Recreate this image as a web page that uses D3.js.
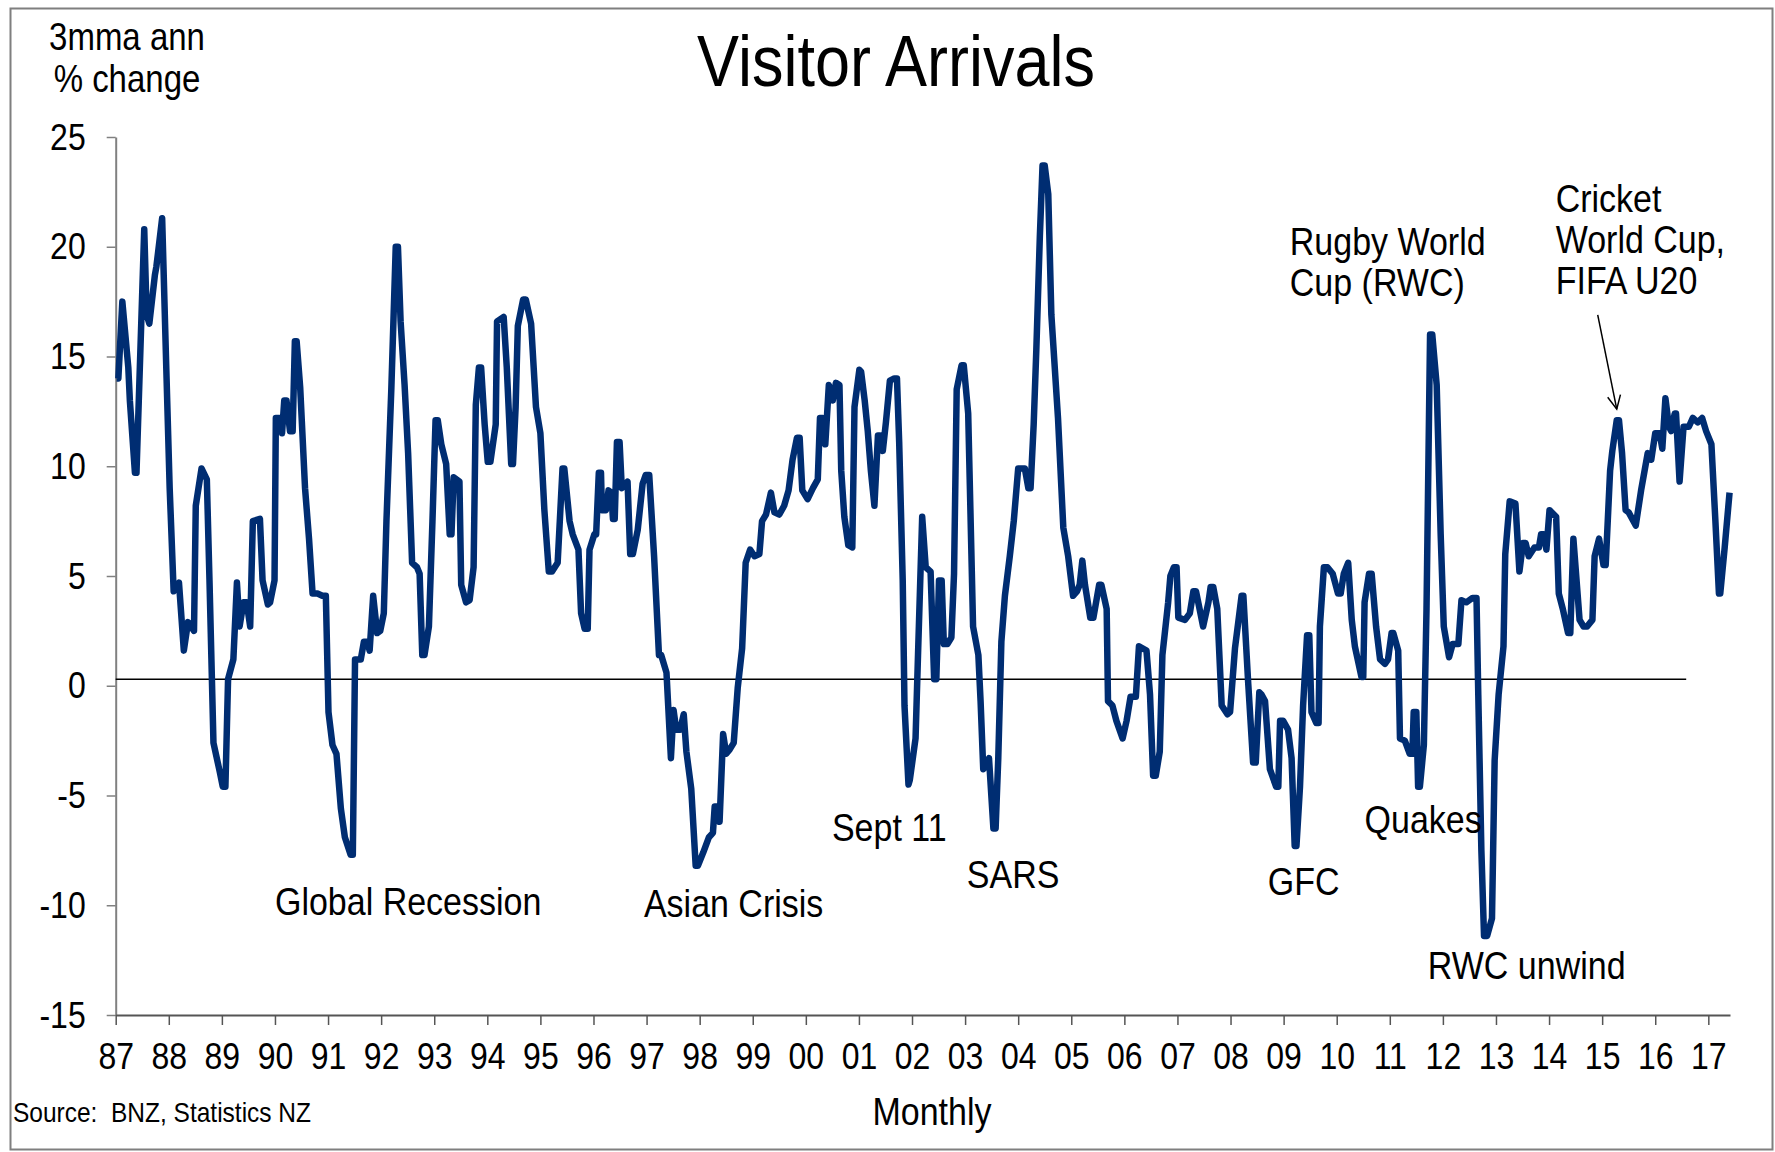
<!DOCTYPE html>
<html>
<head>
    <meta charset="utf-8">
    <title>Visitor Arrivals</title>
    <script src="https://d3js.org/d3.v7.min.js"></script>
    <style type="text/css">
        body {
            margin: 0;
            background: white;
        }
        svg text {
            font-family: "Liberation Sans", Arial, sans-serif;
            fill: black;
        }
    </style>
</head>
<body>
    <svg width="1775" height="1152" id="chart"></svg>

    <script>
        // months since Jan 1987 where the line bends, and the 3mma annual % change there
        var monthIdx = [
            0.2, 0.6, 1.5, 2.85, 3.2, 4.35, 4.7, 6.45, 7.0, 7.6, 8.85, 9.2, 10.5, 11.5, 12.2, 13.1, 14.3, 15.4, 16.35, 17.7,
            18.1, 19.4, 20.6, 21.2, 22.1, 23.5, 24.2, 24.8, 25.4, 26.6, 27.4, 28.0, 28.9, 29.6, 30.4, 31.0, 32.6, 33.2, 34.4, 34.9,
            35.9, 36.2, 37.0, 37.6, 38.1, 38.6, 39.4, 40.0, 40.5, 40.9, 41.7, 42.8, 43.7, 44.5, 45.6, 46.7, 47.5, 48.1, 49.0, 49.9,
            50.9, 51.8, 53.1, 53.6, 54.1, 55.4, 56.1, 56.9, 57.4, 58.2, 59.1, 59.8, 60.6, 61.2, 62.3, 63.3, 63.8, 64.4, 65.3, 66.1,
            67.0, 68.1, 68.7, 69.3, 69.8, 70.8, 71.6, 72.3, 72.8, 73.6, 74.7, 75.5, 75.9, 76.4, 77.7, 78.1, 79.2, 80.0, 80.9, 81.4,
            82.1, 82.6, 83.4, 84.1, 84.7, 85.9, 86.2, 87.7, 88.4, 89.4, 89.8, 90.4, 90.9, 92.1, 92.7, 93.9, 95.0, 96.0, 96.9, 97.9,
            98.6, 99.9, 101.0, 101.4, 102.6, 103.3, 104.6, 105.2, 106.0, 106.7, 107.1, 108.2, 108.6, 109.2, 109.7, 109.9, 110.8, 111.4, 112.0, 112.4,
            112.8, 113.3, 113.9, 114.4, 115.7, 116.3, 116.9, 118.0, 119.1, 119.8, 120.6, 121.7, 122.8, 123.3, 124.5, 125.5, 126.1, 126.7, 127.6, 128.4,
            129.0, 130.1, 131.1, 131.6, 132.8, 134.1, 135.0, 135.4, 135.9, 136.5, 137.3, 138.0, 138.8, 139.7, 140.6, 141.6, 142.4, 143.4, 144.4, 145.5,
            146.1, 147.0, 148.1, 148.9, 150.0, 151.1, 152.1, 153.0, 154.0, 154.6, 155.2, 156.4, 157.6, 158.7, 159.2, 159.8, 160.4, 161.2, 162.1, 162.8,
            163.6, 164.0, 164.7, 165.6, 166.5, 167.0, 168.1, 168.5, 169.3, 170.0, 170.7, 171.5, 172.3, 172.8, 173.4, 174.1, 175.0, 176.0, 176.6, 177.1,
            177.9, 178.3, 179.2, 179.5, 180.8, 181.4, 182.3, 183.1, 184.2, 185.0, 185.5, 186.1, 186.7, 187.2, 188.0, 188.9, 189.5, 190.1, 191.2, 191.7,
            192.7, 193.2, 193.8, 195.0, 195.5, 196.1, 197.4, 198.4, 198.9, 199.5, 200.2, 201.0, 202.1, 203.0, 204.0, 205.5, 206.3, 206.8, 207.5, 208.1,
            208.9, 209.5, 210.0, 210.8, 211.5, 213.0, 214.2, 215.3, 216.4, 217.3, 217.9, 218.5, 219.1, 220.3, 221.0, 222.3, 222.8, 224.0, 224.3, 225.3,
            226.2, 227.6, 228.5, 229.4, 230.6, 231.3, 233.0, 233.8, 234.5, 235.1, 236.0, 236.6, 237.9, 238.4, 239.2, 239.8, 240.2, 241.7, 242.8, 243.6,
            244.2, 245.8, 247.0, 247.5, 248.1, 249.0, 250.0, 251.3, 251.9, 253.0, 254.5, 254.9, 256.0, 257.1, 257.7, 258.5, 259.0, 259.8, 260.9, 262.3,
            262.8, 263.2, 263.9, 265.0, 265.8, 266.5, 266.9, 267.7, 268.4, 269.3, 269.8, 270.3, 271.4, 271.9, 272.2, 273.1, 273.9, 275.1, 276.3, 276.9,
            277.6, 278.6, 279.4, 280.1, 281.6, 282.0, 282.3, 283.3, 283.9, 284.9, 285.8, 286.9, 287.6, 288.4, 288.8, 289.9, 290.3, 291.4, 292.5, 293.1,
            293.4, 294.0, 294.4, 294.8, 295.7, 296.3, 297.1, 297.6, 298.6, 299.5, 300.2, 301.4, 302.2, 303.5, 304.2, 305.3, 306.7, 307.6, 308.0, 308.7,
            309.3, 310.0, 311.1, 311.7, 312.6, 313.7, 314.1, 315.1, 316.4, 317.3, 318.1, 318.7, 319.4, 320.7, 321.7, 322.2, 322.8, 323.4, 324.1, 325.6,
            326.2, 327.1, 328.3, 328.8, 329.5, 330.9, 331.8, 332.6, 333.8, 334.3, 335.3, 336.3, 336.8, 337.8, 338.3, 339.3, 339.8, 340.5, 341.3, 342.0,
            343.6, 344.8, 346.3, 347.1, 348.0, 349.0, 349.6, 350.3, 351.1, 351.6, 352.4, 352.7, 353.5, 354.4, 355.6, 356.5, 357.6, 358.6, 359.5, 360.7,
            361.6, 362.4, 362.7, 363.7, 364.8
        ];
        var pctChange = [
            14.0, 14.0, 17.5, 14.5, 13.0, 9.7, 9.7, 20.8, 16.9, 16.5, 18.7, 19.1, 21.3, 14.0, 9.0, 4.3, 4.7, 1.6, 2.9, 2.5,
            8.2, 9.9, 9.4, 4.8, -2.6, -3.9, -4.6, -4.6, 0.3, 1.2, 4.7, 2.7, 3.8, 3.8, 2.7, 7.5, 7.6, 4.8, 3.7, 3.8,
            4.8, 12.2, 12.2, 11.5, 13.0, 13.0, 11.6, 11.6, 15.7, 15.7, 13.6, 9.0, 6.7, 4.2, 4.2, 4.1, 4.1, -1.2, -2.7, -3.1,
            -5.6, -6.9, -7.7, -7.7, 1.2, 1.2, 2.0, 2.0, 1.6, 4.1, 2.4, 2.5, 3.3, 7.5, 13.5, 20.0, 20.0, 16.6, 13.7, 10.6,
            5.6, 5.4, 5.1, 1.4, 1.4, 2.7, 7.5, 12.1, 12.1, 11.0, 10.1, 6.9, 6.9, 9.5, 9.3, 4.6, 3.8, 3.9, 5.4, 12.8,
            14.5, 14.5, 11.9, 10.2, 10.2, 11.9, 16.6, 16.8, 14.5, 10.1, 10.1, 12.7, 16.4, 17.6, 17.6, 16.5, 12.7, 11.5, 8.0, 5.2,
            5.2, 5.6, 9.9, 9.9, 7.5, 6.9, 6.2, 3.3, 2.6, 2.6, 6.2, 6.9, 6.9, 9.7, 9.7, 8.0, 8.0, 8.9, 8.8, 7.6,
            7.6, 11.1, 11.1, 9.0, 9.3, 6.0, 6.0, 7.1, 9.2, 9.6, 9.6, 5.9, 1.4, 1.4, 0.6, -3.3, -1.1, -2.0, -2.0, -1.3,
            -3.0, -4.7, -8.2, -8.2, -7.6, -6.9, -6.7, -5.5, -5.5, -6.2, -2.2, -3.1, -2.9, -2.6, -0.1, 1.7, 5.6, 6.2, 5.9, 6.0,
            7.5, 7.8, 8.8, 7.9, 7.8, 8.2, 8.9, 10.3, 11.3, 11.3, 8.9, 8.5, 9.0, 9.4, 12.2, 12.2, 11.0, 13.7, 13.0, 13.8,
            13.7, 9.8, 7.7, 6.4, 6.3, 12.7, 14.4, 14.3, 13.0, 11.6, 9.8, 8.2, 11.4, 11.4, 10.7, 12.0, 13.9, 14.0, 14.0, 11.1,
            4.8, -0.9, -4.5, -4.3, -2.4, 1.7, 7.7, 5.4, 5.2, 0.3, 0.3, 4.8, 4.8, 1.9, 1.9, 2.2, 5.1, 13.5, 14.6, 14.6,
            12.4, 8.0, 2.7, 1.4, -0.7, -3.8, -3.3, -6.5, -6.5, -3.3, 2.0, 4.1, 5.9, 7.5, 9.9, 9.9, 9.0, 9.0, 11.9, 15.3,
            20.5, 23.7, 23.7, 22.4, 16.9, 12.2, 7.2, 5.9, 4.1, 4.3, 4.6, 5.7, 4.6, 3.1, 3.1, 4.6, 4.6, 3.5, -0.7, -0.9,
            -1.6, -2.4, -1.6, -0.5, -0.5, 1.8, 1.6, -0.4, -4.1, -4.1, -3.0, 1.4, 3.8, 5.0, 5.4, 5.4, 3.1, 3.0, 3.3, 4.3,
            4.3, 2.7, 3.8, 4.5, 4.5, 3.5, -0.9, -1.3, -1.2, 1.7, 4.1, 4.1, 0.1, -3.5, -3.5, -0.3, -0.4, -0.7, -3.8, -4.6,
            -4.6, -1.6, -1.6, -2.0, -3.3, -7.3, -7.3, -4.6, -0.9, 2.3, 2.3, -1.2, -1.7, -1.7, 2.7, 5.4, 5.4, 5.1, 4.2, 4.2,
            5.1, 5.6, 3.0, 1.8, 0.4, 0.4, 3.8, 5.1, 5.1, 2.7, 1.2, 1.0, 1.2, 2.4, 2.4, 1.6, -2.4, -2.5, -3.1, -3.1,
            -1.2, -1.2, -4.6, -4.6, -2.7, 3.5, 16.0, 16.0, 13.7, 6.9, 2.7, 1.3, 1.9, 1.9, 3.9, 3.8, 4.0, 4.0, -0.4, -7.5,
            -11.4, -11.4, -10.6, -3.4, -0.4, 1.8, 6.0, 8.4, 8.3, 5.2, 6.5, 6.5, 5.9, 6.3, 6.3, 6.9, 6.9, 6.2, 8.0, 7.7,
            4.2, 3.5, 2.4, 2.4, 6.7, 3.0, 2.7, 2.7, 3.0, 5.9, 6.7, 5.5, 5.5, 9.8, 10.7, 12.1, 12.1, 10.6, 8.0, 7.9,
            7.3, 8.9, 10.6, 10.3, 11.5, 11.5, 10.8, 13.1, 11.8, 11.6, 12.4, 12.4, 9.3, 11.8, 11.8, 12.2, 12.0, 12.2, 11.6, 11.0,
            7.5, 4.2, 4.2, 6.3, 8.8
        ];

        // axes
        var yTicks = [25, 20, 15, 10, 5, 0, -5, -10, -15];
        var yearLabels = ["87", "88", "89", "90", "91", "92", "93", "94", "95", "96", "97", "98", "99", "00", "01", "02",
                          "03", "04", "05", "06", "07", "08", "09", "10", "11", "12", "13", "14", "15", "16", "17"];

        // thin reference line near zero (drawn to mid 2016 in the original)
        var refLineValue = 0.3;
        var refLineEnd = 355;

        // event labels: text lines, anchor month, anchor value (baseline of first line)
        var eventText = [["Global Recession"], ["Asian Crisis"], ["Sept 11"], ["SARS"], ["GFC"], ["Quakes"], ["RWC unwind"],
                         ["Rugby World", "Cup (RWC)"], ["Cricket", "World Cup,", "FIFA U20"]];
        var eventMonth = [36.0, 119.4, 161.9, 192.4, 260.4, 282.3, 296.6, 265.4, 325.5];
        var eventValue = [-10.43, -10.52, -7.06, -9.2, -9.52, -6.7, -13.35, 19.64, 21.6];

        // arrow to the cricket world cup peak: [month, value] from -> to
        var arrowFrom = [335.0, 16.9];
        var arrowTo = [339.3, 12.6];

        var stretchY = 1.15;
        function stretch(sel) {
            sel.attr("transform", function() {
                var y = +this.getAttribute("y") || 0;
                return "translate(0," + y + ") scale(1," + stretchY + ") translate(0," + (-y) + ")";
            });
        }

        var svg = d3.select("#chart");

        svg.append("rect")
            .attr("x", 10.5).attr("y", 8.5)
            .attr("width", 1762).attr("height", 1141)
            .attr("fill", "white")
            .attr("stroke", "#7f7f7f")
            .attr("stroke-width", 2);

        var xScale = d3.scaleLinear().domain([0, 364.9]).range([115.7, 1730]);
        var yScale = d3.scaleLinear().domain([-15, 25]).range([1015, 137]);

        var data = monthIdx.map(function(m, i) { return { m: m, v: pctChange[i] }; });

        // y axis
        var yAxis = svg.append("g")
            .attr("transform", "translate(" + xScale(0) + ",0)")
            .call(d3.axisLeft(yScale).tickValues(yTicks).tickSize(9).tickSizeOuter(0).tickPadding(21)
                .tickFormat(function(d) { return String(d); }));
        yAxis.select(".domain").attr("stroke", "#808080").attr("stroke-width", 2);
        yAxis.selectAll(".tick line").attr("stroke", "#808080").attr("stroke-width", 1.5);
        yAxis.selectAll(".tick text")
            .attr("font-size", "32px")
            .attr("font-family", "Liberation Sans, Arial, sans-serif")
            .attr("dy", 0)
            .attr("y", 12)
            .call(stretch);

        // x axis
        var xAxis = svg.append("g")
            .attr("transform", "translate(0," + yScale(-15) + ")")
            .call(d3.axisBottom(xScale)
                .tickValues(d3.range(0, 361, 12))
                .tickSize(10).tickSizeOuter(0)
                .tickFormat(function(d) { return yearLabels[d / 12]; }));
        xAxis.select(".domain").attr("stroke", "#555").attr("stroke-width", 2);
        xAxis.selectAll(".tick line").attr("stroke", "#555").attr("stroke-width", 1.5);
        xAxis.selectAll(".tick text")
            .attr("font-size", "32px")
            .attr("font-family", "Liberation Sans, Arial, sans-serif")
            .attr("dy", 0)
            .attr("y", 54)
            .call(stretch);

        // reference line
        svg.append("line")
            .attr("x1", xScale(0)).attr("x2", xScale(refLineEnd))
            .attr("y1", yScale(refLineValue)).attr("y2", yScale(refLineValue))
            .attr("stroke", "black")
            .attr("stroke-width", 1.5);

        // series
        var line = d3.line()
            .x(function(d) { return xScale(d.m); })
            .y(function(d) { return yScale(d.v); });

        svg.append("path")
            .datum(data)
            .attr("d", line)
            .attr("fill", "none")
            .attr("stroke", "#002D72")
            .attr("stroke-width", 6.5)
            .attr("stroke-linejoin", "round");

        // event labels
        eventText.forEach(function(lines, i) {
            var x = xScale(eventMonth[i]);
            var y0 = yScale(eventValue[i]);
            lines.forEach(function(t, j) {
                svg.append("text")
                    .attr("x", x)
                    .attr("y", y0 + j * 41)
                    .attr("font-size", "34px")
                    .text(t)
                    .call(stretch);
            });
        });

        // arrow
        var ax1 = xScale(arrowFrom[0]), ay1 = yScale(arrowFrom[1]);
        var ax2 = xScale(arrowTo[0]), ay2 = yScale(arrowTo[1]);
        var ang = Math.atan2(ay2 - ay1, ax2 - ax1);
        var headLen = 15, headAng = Math.PI / 7;
        svg.append("line")
            .attr("x1", ax1).attr("y1", ay1).attr("x2", ax2).attr("y2", ay2)
            .attr("stroke", "black").attr("stroke-width", 1.5);
        svg.append("path")
            .attr("d", "M" + (ax2 - headLen * Math.cos(ang - headAng)) + "," + (ay2 - headLen * Math.sin(ang - headAng)) +
                       "L" + ax2 + "," + ay2 +
                       "L" + (ax2 - headLen * Math.cos(ang + headAng)) + "," + (ay2 - headLen * Math.sin(ang + headAng)))
            .attr("fill", "none").attr("stroke", "black").attr("stroke-width", 1.5);

        // titles
        svg.append("text")
            .attr("x", 896).attr("y", 86)
            .attr("text-anchor", "middle")
            .attr("font-size", "63px")
            .text("Visitor Arrivals")
            .call(stretch);

        svg.append("text")
            .attr("x", 127).attr("y", 50)
            .attr("text-anchor", "middle")
            .attr("font-size", "33px")
            .text("3mma ann")
            .call(stretch);
        svg.append("text")
            .attr("x", 127).attr("y", 92)
            .attr("text-anchor", "middle")
            .attr("font-size", "33px")
            .text("% change")
            .call(stretch);

        svg.append("text")
            .attr("x", 932).attr("y", 1125)
            .attr("text-anchor", "middle")
            .attr("font-size", "34px")
            .text("Monthly")
            .call(stretch);

        svg.append("text")
            .attr("x", 13).attr("y", 1122)
            .attr("font-size", "24.5px")
            .text("Source:  BNZ, Statistics NZ")
            .attr("xml:space", "preserve")
            .style("white-space", "pre")
            .call(stretch);
    </script>
</body>
</html>
